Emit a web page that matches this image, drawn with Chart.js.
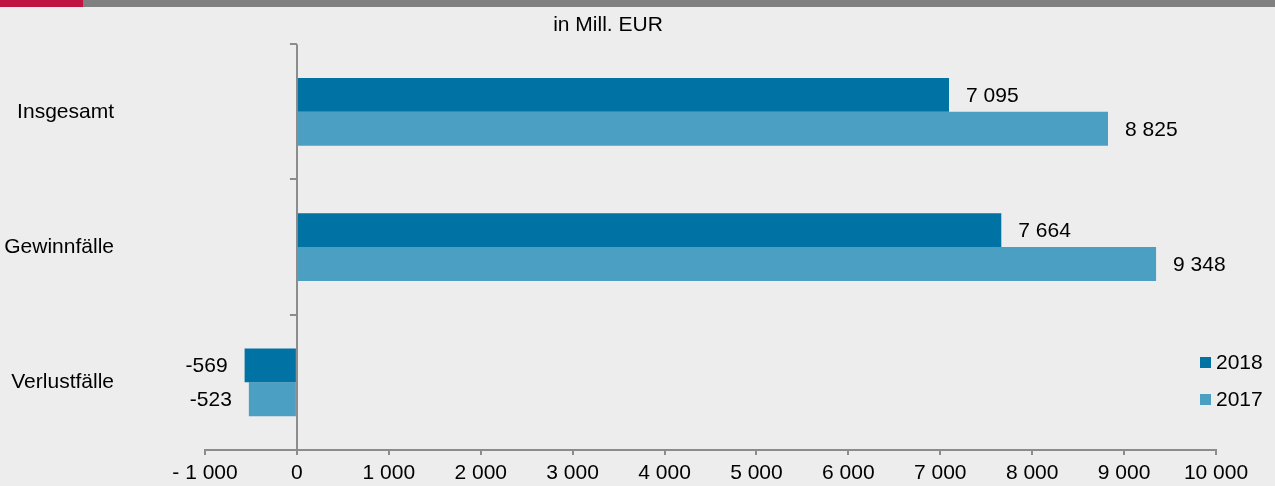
<!DOCTYPE html>
<html>
<head>
<meta charset="utf-8">
<script src="https://cdn.jsdelivr.net/npm/chart.js@4/dist/chart.umd.min.js"></script>
<style>
  html, body { margin: 0; padding: 0; background: #ededed; overflow: hidden; }
  canvas { display: block; }
</style>
</head>
<body>
<canvas id="myChart" width="1275" height="486"></canvas>
<script>
// data
var kategorien = ['Insgesamt', 'Gewinnfälle', 'Verlustfälle'];
var werte2018 = [7095, 7664, -569];
var werte2017 = [8825, 9348, -523];
var jahre = ['2018', '2017'];
var titel = 'in Mill. EUR';

var farbe2018 = '#0072a3';
var farbe2017 = '#4b9fc3';
var achsenGrau = '#8c8c8c';

Chart.defaults.font.family = "'Liberation Sans', Arial, sans-serif";
Chart.defaults.font.size = 21;
Chart.defaults.color = '#000';

// 7095 -> "7 095"
function tausender(v) {
    return Math.abs(v).toString().replace(/\B(?=(\d{3})+(?!\d))/g, ' ');
}

var hintergrund = {
    id: 'hintergrund',
    beforeDraw: function(chart) {
        var c = chart.ctx;
        c.save();
        c.fillStyle = '#ededed';
        c.fillRect(0, 0, chart.width, chart.height);
        c.fillStyle = '#808080';
        c.fillRect(0, 0, chart.width, 7);
        c.fillStyle = '#be1542';
        c.fillRect(0, 0, 83, 7);
        c.restore();
    }
};

// small ticks on the zero line between the categories + value labels + legend
var extras = {
    id: 'extras',
    afterDraw: function(chart) {
        var c = chart.ctx;
        var area = chart.chartArea;
        var x0 = chart.scales.x.getPixelForValue(0);
        c.save();
        c.strokeStyle = achsenGrau;
        c.lineWidth = 2;
        var band = (area.bottom - area.top) / kategorien.length;
        for (var i = 0; i <= kategorien.length; i++) {
            var y = Math.round(area.top + i * band);
            c.beginPath();
            c.moveTo(x0 - 7, y);
            c.lineTo(x0, y);
            c.stroke();
        }

        c.fillStyle = '#000';
        c.font = "21px 'Liberation Sans', Arial, sans-serif";
        c.textBaseline = 'middle';
        chart.data.datasets.forEach(function(ds, di) {
            var meta = chart.getDatasetMeta(di);
            meta.data.forEach(function(el, j) {
                var v = ds.data[j];
                var txt = (v < 0 ? '-' : '') + tausender(v);
                if (v >= 0) {
                    c.textAlign = 'left';
                    c.fillText(txt, el.x + 17, el.y + 1);
                } else {
                    c.textAlign = 'right';
                    c.fillText(txt, el.x - 17, el.y + 1);
                }
            });
        });

        // legend bottom right
        var lx = 1200;
        var ly = [362, 399];
        chart.data.datasets.forEach(function(ds, di) {
            c.fillStyle = ds.backgroundColor;
            c.fillRect(lx, ly[di] - 5, 11, 11);
            c.fillStyle = '#000';
            c.textAlign = 'left';
            c.fillText(ds.label, lx + 16, ly[di] + 1);
        });
        c.restore();
    }
};

var ctx = document.getElementById('myChart');
var myChart = new Chart(ctx, {
    type: 'bar',
    data: {
        labels: kategorien,
        datasets: [{
            label: jahre[0],
            data: werte2018,
            backgroundColor: farbe2018
        }, {
            label: jahre[1],
            data: werte2017,
            backgroundColor: farbe2017
        }]
    },
    options: {
        indexAxis: 'y',
        responsive: false,
        animation: false,
        categoryPercentage: 0.5,
        barPercentage: 1.0,
        layout: {
            padding: { left: 0, right: 59, top: 0, bottom: 0 }
        },
        plugins: {
            legend: { display: false },
            tooltip: { enabled: false },
            title: {
                display: true,
                text: titel,
                color: '#000',
                font: { size: 21, weight: 'normal' },
                padding: { top: 12.5, bottom: 6.5 }
            }
        },
        scales: {
            x: {
                min: -1000,
                max: 10000,
                ticks: {
                    stepSize: 1000,
                    padding: 6,
                    maxRotation: 0,
                    callback: function(v) {
                        return (v < 0 ? '- ' : '') + tausender(v);
                    }
                },
                grid: {
                    drawOnChartArea: true,
                    drawTicks: true,
                    tickLength: 5,
                    tickColor: achsenGrau,
                    lineWidth: 2,
                    color: function(c) {
                        return (c.tick && c.tick.value === 0) ? achsenGrau : 'rgba(0,0,0,0)';
                    }
                },
                border: { display: true, color: achsenGrau, width: 2 },
                afterFit: function(s) { s.height = 36; }
            },
            y: {
                ticks: { padding: 91 },
                grid: { display: false, drawTicks: false },
                border: { display: false },
                afterFit: function(s) {
                    s.width = 205;
                    s.paddingTop = 0;
                    s.paddingBottom = 0;
                }
            }
        }
    },
    plugins: [hintergrund, extras]
});
</script>
</body>
</html>
